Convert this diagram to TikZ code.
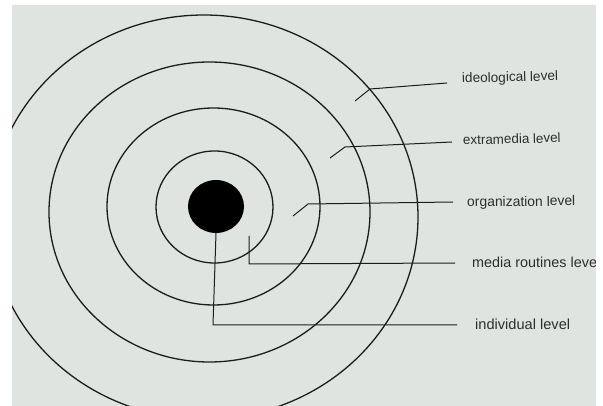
\documentclass[tikz,border=0pt]{standalone}
\usepackage{fontspec}
\setmainfont{Liberation Sans}
\usetikzlibrary{shapes.geometric}
\definecolor{paper}{RGB}{224,228,224}
\definecolor{ink}{RGB}{28,28,28}
\definecolor{txt}{RGB}{45,45,45}
\begin{document}
\begin{tikzpicture}[x=1pt,y=-1pt,
  ring/.style={draw=ink,line width=1.3pt},
  leader/.style={draw=ink,line width=1pt,line join=round},
  lbl/.style={anchor=base west,inner sep=0pt,text=txt}]
\useasboundingbox (0,0) rectangle (603,406);
\fill[white] (0,0) rectangle (603,406);
\fill[paper] (12,5) rectangle (596,406);
\begin{scope}
  \clip (12,5) rectangle (596,406);
  \draw[ring] (204,217) ellipse [x radius=214, y radius=202];
  \draw[ring] (209.5,212) ellipse [x radius=160.5, y radius=150];
  \draw[ring] (213.5,206.5) ellipse [x radius=106.5, y radius=98.5];
  \draw[ring] (214.5,207) ellipse [x radius=58.5, y radius=56];
\end{scope}
\node[ellipse,fill=black,draw=none,inner sep=0pt,minimum width=56pt,minimum height=53pt] (dot) at (216,206.5) {};

% labels
\node[lbl,font=\fontsize{13.6}{16}\selectfont,rotate=1.5] (ideo) at (462,83) {ideological level};
\node[lbl,font=\fontsize{13.4}{16}\selectfont,rotate=1.5] (extra) at (463,145) {extramedia level};
\node[lbl,font=\fontsize{13.9}{16}\selectfont,rotate=0.7] (org) at (467,207) {organization level};
\node[lbl,font=\fontsize{14.4}{16}\selectfont] (media) at (472,268) {media routines level};
\node[lbl,font=\fontsize{14.6}{16}\selectfont] (indiv) at (475,330) {individual level};

% leader points
\coordinate (ideoA) at (355,101);
\coordinate (ideoB) at (370,89);
\coordinate (ideoC) at (447,83);
\coordinate (extraA) at (330,158);
\coordinate (extraB) at (345,147);
\coordinate (extraC) at (452,142);
\coordinate (orgA) at (293,216);
\coordinate (orgB) at (308,204);
\coordinate (orgC) at (453,202);
\coordinate (mediaA) at (249,236);
\coordinate (mediaB) at (249,264);
\coordinate (mediaC) at (455,263);
\coordinate (indivB) at (213,325);
\coordinate (indivC) at (457,325);

\draw[leader] (ideoA) -- (ideoB) -- (ideoC);
\draw[leader] (extraA) -- (extraB) -- (extraC);
\draw[leader] (orgA) -- (orgB) -- (orgC);
\draw[leader] (mediaA) -- (mediaB) -- (mediaC);
\draw[leader] (dot.south) -- (indivB) -- (indivC);

% right white margin (cuts the last label as in the original)
\fill[white] (596,0) rectangle (603,406);
\end{tikzpicture}
\end{document}
